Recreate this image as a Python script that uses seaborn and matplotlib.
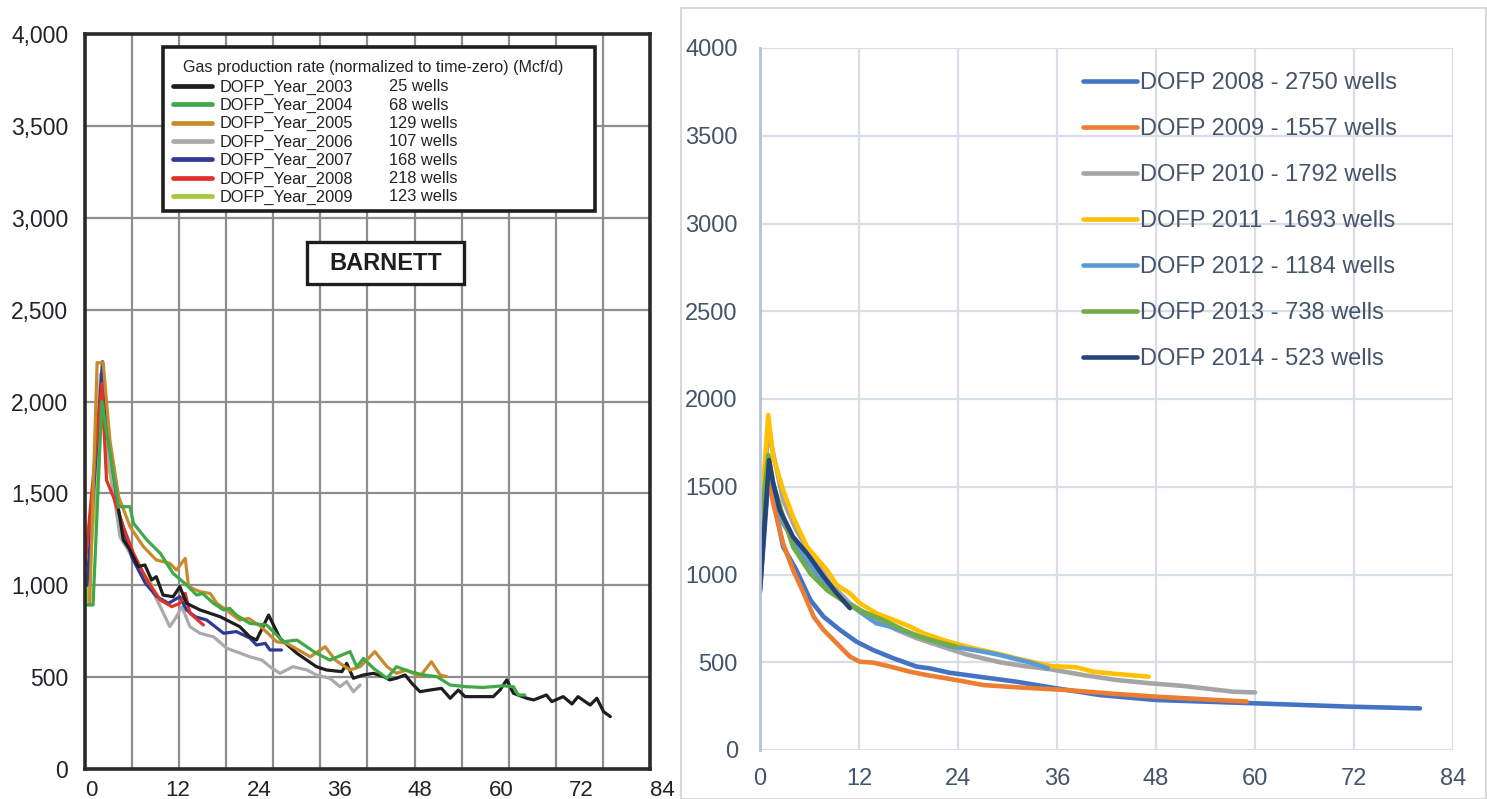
import matplotlib
matplotlib.use("Agg")
import matplotlib.pyplot as plt
import seaborn as sns
from matplotlib.lines import Line2D
from matplotlib.patches import Rectangle
from matplotlib.ticker import FuncFormatter, MultipleLocator

# ---------------- Barnett, 2003-2009 vintages (left panel) ----------------
b2003_m = [5, 5.7, 6.7, 7.9, 8.9, 9.9, 10.6, 11.6, 13.1, 14.1, 15.1, 16.1, 17.1, 20.1, 23, 24.5, 25.5,
           27.3, 29, 31.5, 34.4, 35.9, 38.2, 38.9, 39.9, 41.4, 42.9, 44.4, 45.3, 46.3, 47.6, 48.6, 49.8,
           51.3, 53, 54.3, 55.5, 56.5, 59.2, 60.7, 61.7, 62.7, 63.7, 65.7, 66.7, 68.6, 69.4, 71.1, 72.4,
           73.3, 75.1, 76.1, 77.1, 78.1]
b2003_v = [1410, 1247, 1192, 1102, 1111, 1029, 1047, 947, 938, 993, 902, 884, 866, 829, 775, 720, 702,
           838, 711, 630, 557, 539, 530, 575, 494, 512, 521, 503, 485, 494, 512, 466, 421,
           430, 439, 385, 430, 394, 394, 394, 430, 485, 412, 385, 376, 403, 367, 394, 354,
           394, 348, 385, 312, 285]

b2004_m = [0.3, 1.2, 2.5, 3, 5, 6.7, 7.2, 9.2, 11.2, 13.1, 15.1, 16.6, 17.5, 19.1, 20.6, 21.5, 22.5, 24.5,
           27, 29.5, 31.5, 34.4, 36.4, 39.4, 40.4, 41.4, 42.9, 44.9, 46.3, 48.3, 50.3, 52.3, 54.3, 56.7,
           59.2, 62.2, 63.7, 64.4, 65.4]
b2004_v = [893, 893, 2000, 1882, 1428, 1428, 1338, 1247, 1174, 1065, 1002, 947, 955, 902, 866, 875, 838, 793,
           784, 693, 702, 630, 593, 639, 557, 602, 548, 494, 557, 530, 512, 503, 457, 448,
           444, 453, 448, 403, 403]

b2005_m = [0.7, 1.8, 2.7, 3.7, 5, 6.7, 8.7, 10.6, 12.6, 13.6, 14.9, 15.4, 17.1, 18.6, 19.6, 21, 23, 24.3,
           26, 28.5, 30, 33.5, 35.7, 37.2, 39.4, 40.9, 43.1, 44.9, 46.3, 47.8, 49.8, 51.5, 52.8, 53.8]
b2005_v = [902, 2212, 2212, 1791, 1483, 1319, 1210, 1138, 1120, 1083, 1147, 993, 965, 956, 902, 866, 811, 820,
           780, 693, 684, 611, 666, 593, 539, 557, 639, 557, 521, 539, 503, 584, 512, 503]

b2006_m = [0.5, 2.3, 3.5, 5.2, 6.7, 9.2, 11.2, 12.6, 13.6, 14.4, 15.6, 17.1, 19.1, 21.1, 24.5, 26.3,
           27.5, 29, 30.9, 33, 34.4, 36.4, 37.9, 38.9, 39.9, 40.9]
b2006_v = [1000, 2150, 1700, 1265, 1174, 1029, 884, 775, 829, 884, 775, 739, 720, 657, 611, 593,
           557, 521, 557, 539, 512, 494, 448, 476, 421, 457]

b2007_m = [0.3, 2.6, 3.5, 5, 7, 9, 10.7, 12.4, 14.1, 15.1, 16.4, 18.1, 20.6, 22.5, 24.5, 25.5, 26.8,
           27.5, 29.2]
b2007_v = [1000, 2218, 1800, 1400, 1150, 1010, 938, 902, 938, 866, 829, 811, 739, 748, 713, 675, 684,
           648, 648]

b2008_m = [0, 2.5, 3.2, 4.2, 5.7, 7.2, 9.2, 11.2, 12.9, 14.1, 14.9, 15.6, 17.6]
b2008_v = [1100, 2100, 1573, 1483, 1319, 1174, 1029, 920, 884, 902, 956, 848, 784]

b2009_m = [0.3, 2.5, 3.5, 5, 7, 9, 10]
b2009_v = [900, 1950, 1650, 1350, 1150, 1050, 1000]

barnett_years = ["2003", "2004", "2005", "2006", "2007", "2008", "2009"]
barnett_wells = [25, 68, 129, 107, 168, 218, 123]
barnett_colors = ["#1e1e1e", "#3fa847", "#c98a2e", "#aaaaac", "#2d3b96", "#e03228", "#a8c83c"]
barnett_series = [(b2003_m, b2003_v), (b2004_m, b2004_v), (b2005_m, b2005_v), (b2006_m, b2006_v),
                  (b2007_m, b2007_v), (b2008_m, b2008_v), (b2009_m, b2009_v)]
# drawing order (back to front)
barnett_order = [6, 3, 4, 5, 0, 2, 1]

# ---------------- 2008-2014 vintages (right panel) ----------------
d2008_m = [0, 1, 1.8, 2.8, 4.4, 6.1, 7.7, 9.7, 11.7, 13.7, 16.2, 19, 20.6, 23, 27.1, 31.1, 36, 41.2,
           48, 60, 71.5, 80]
d2008_v = [900, 1540, 1386, 1158, 1026, 855, 760, 684, 617, 570, 522, 475, 465, 440, 414, 389, 351, 313,
           285, 266, 247, 237]

d2009_m = [0, 1, 1.6, 2.8, 4.0, 5.3, 6.5, 7.7, 9.3, 10.9, 12.1, 13.7, 15.8, 18.2, 20.2, 23, 24.2, 27.1,
           31.9, 37.1, 43.2, 48, 55.3, 59]
d2009_v = [1100, 1576, 1405, 1177, 1026, 893, 760, 684, 608, 532, 503, 498, 475, 446, 427, 405, 395, 370,
           355, 342, 319, 304, 285, 276]

d2010_m = [0, 1, 2.8, 4.4, 6.1, 8.5, 10.9, 13.3, 16.6, 19, 23, 25, 26.3, 29.1, 31.9, 35.2, 39.2, 43.2,
           47.3, 51.3, 57.4, 60]
d2010_v = [1200, 1823, 1424, 1253, 1120, 949, 836, 760, 684, 637, 575, 545, 530, 500, 479, 460, 427, 399,
           380, 365, 332, 328]

d2011_m = [0, 1, 1.6, 2.8, 4, 5.7, 6.9, 8.1, 9.3, 10.9, 12.1, 14.1, 16.2, 18.2, 19.8, 22.2, 23.8, 26.3,
           28.7, 31.1, 35.2, 38.4, 40.4, 43.2, 47.1]
d2011_v = [1250, 1909, 1671, 1481, 1329, 1158, 1092, 1026, 940, 893, 836, 779, 741, 703, 665, 627, 605, 575,
           551, 522, 479, 471, 446, 433, 418]

d2012_m = [0, 1, 2.8, 5.3, 7.7, 10.1, 12.1, 14.1, 15.8, 18.2, 20.6, 23, 25.5, 27.1, 29.1, 33.1, 34.9]
d2012_v = [1000, 1620, 1291, 1101, 949, 855, 788, 722, 703, 665, 627, 592, 573, 560, 541, 494, 465]

d2013_m = [0, 1, 1.6, 2.8, 4, 6.1, 8.1, 10.5, 12.5, 14.9, 17.4, 19.8, 22.2, 23.8]
d2013_v = [1250, 1681, 1519, 1329, 1158, 1006, 912, 836, 788, 741, 684, 637, 608, 589]

d2014_m = [0, 1.1, 1.6, 2.4, 4, 5.7, 7.7, 9.3, 10.9]
d2014_v = [912, 1652, 1519, 1367, 1215, 1120, 988, 893, 808]

dofp_years = ["2008", "2009", "2010", "2011", "2012", "2013", "2014"]
dofp_wells = [2750, 1557, 1792, 1693, 1184, 738, 523]
dofp_colors = ["#4472c4", "#ed7d31", "#a5a5a5", "#ffc000", "#5b9bd5", "#70ad47", "#264478"]
dofp_series = [(d2008_m, d2008_v), (d2009_m, d2009_v), (d2010_m, d2010_v), (d2011_m, d2011_v),
               (d2012_m, d2012_v), (d2013_m, d2013_v), (d2014_m, d2014_v)]

# ---------------- figure ----------------
sns.set_style("white")
plt.rcParams["font.family"] = ["Liberation Sans", "DejaVu Sans"]

W, H = 1487, 799
fig = plt.figure(figsize=(W / 100, H / 100), dpi=100)

# ---- left panel ----
ax1 = fig.add_axes([85 / W, (H - 769) / H, 565 / W, 734.7 / H])
for i in barnett_order:
    m, v = barnett_series[i]
    sns.lineplot(x=m, y=v, ax=ax1, color=barnett_colors[i], lw=2.3, sort=False,
                 estimator=None, legend=False)

ax1.set_xlim(0, 84)
ax1.set_ylim(0, 4000)
ax1.xaxis.set_major_locator(MultipleLocator(12))
ax1.xaxis.set_minor_locator(MultipleLocator(7))
ax1.yaxis.set_major_locator(MultipleLocator(500))
ax1.yaxis.set_major_formatter(FuncFormatter(lambda v, p: f"{v:,.0f}"))
ax1.tick_params(axis="x", which="major", length=0, pad=8, labelsize=16, labelcolor="#222228")
ax1.tick_params(axis="x", which="minor", length=8, width=2, color="#333333", direction="out")
ax1.tick_params(axis="y", which="major", length=8, width=2, color="#333333", pad=4,
                labelsize=16.5, labelcolor="#222228", direction="out")
for lab in ax1.get_xticklabels():
    lab.set_horizontalalignment("left")
ax1.grid(False)
ax1.grid(True, which="minor", axis="x", color="#8e8e8e", lw=1.6)
ax1.grid(True, which="major", axis="y", color="#8e8e8e", lw=1.6)
ax1.set_axisbelow(True)
for s in ax1.spines.values():
    s.set_visible(True)
    s.set_color("#2a2a2a")
    s.set_linewidth(2.6)
ax1.set_xlabel("")
ax1.set_ylabel("")

# legend frame, title and entries
ax1.add_patch(Rectangle((0.1386, 0.7599), 0.9027 - 0.1386, 0.9823 - 0.7599, transform=ax1.transAxes,
                        fill=True, fc="white", ec="#1e1e1e", lw=2.6, zorder=5))
ax1.text(0.1726, 0.9554, "Gas production rate (normalized to time-zero) (Mcf/d)", transform=ax1.transAxes,
         fontsize=11.6, color="#222228", ha="left", va="center", zorder=6)
handles = [Line2D([], [], color=c, lw=3.4) for c in barnett_colors]
handles += [Line2D([], [], color="none", lw=0) for _ in barnett_colors]
labels = [f"DOFP_Year_{y}" for y in barnett_years] + [f"{w} wells" for w in barnett_wells]
leg1 = ax1.legend(handles, labels, ncol=2, loc="upper left", bbox_to_anchor=(0.1552, 0.9385),
                  frameon=False, fontsize=11.8, handlelength=2.38, handletextpad=0.51,
                  columnspacing=-0.75, labelspacing=0.2, borderpad=0, borderaxespad=0)
leg1.set_zorder(7)
for t in leg1.get_texts():
    t.set_color("#222228")

# region tag
ax1.add_patch(Rectangle((0.3935, 0.6597), 0.6713 - 0.3935, 0.7169 - 0.6597, transform=ax1.transAxes,
                        fill=True, fc="white", ec="#1e1e1e", lw=2.4, zorder=5))
ax1.text(0.5324, 0.6883, "BARNETT", transform=ax1.transAxes, fontsize=17, fontweight="bold",
         color="#1e1e1e", ha="center", va="center", zorder=6)

# ---- right panel ----
ax2 = fig.add_axes([760 / W, (H - 750) / H, 693 / W, 702 / H])
for i, (m, v) in enumerate(dofp_series):
    sns.lineplot(x=m, y=v, ax=ax2, color=dofp_colors[i], lw=3.3, sort=False, estimator=None,
                 label=f"DOFP {dofp_years[i]} - {dofp_wells[i]} wells")
    ax2.lines[-1].set_solid_capstyle("round")
    ax2.lines[-1].set_solid_joinstyle("round")

ax2.set_xlim(0, 84)
ax2.set_ylim(0, 4000)
ax2.xaxis.set_major_locator(MultipleLocator(12))
ax2.yaxis.set_major_locator(MultipleLocator(500))
ax2.tick_params(axis="x", length=0, pad=13, labelsize=17, labelcolor="#44546a")
ax2.tick_params(axis="y", length=0, pad=16, labelsize=17, labelcolor="#44546a")
ax2.grid(True, color="#d9dde6", lw=1.6)
ax2.set_axisbelow(True)
for k in ["top", "right", "bottom"]:
    ax2.spines[k].set_visible(False)
ax2.spines["left"].set_color("#b8c2d6")
ax2.spines["left"].set_linewidth(2)
ax2.set_xlabel("")
ax2.set_ylabel("")

leg2 = ax2.legend(loc="upper left", bbox_to_anchor=(0.4661, 0.966), frameon=False, fontsize=17,
                  handlelength=2.29, handletextpad=0.13, labelspacing=1.02, borderpad=0,
                  borderaxespad=0)
for t in leg2.get_texts():
    t.set_color("#44546a")
for h in leg2.get_lines():
    h.set_linewidth(3.3)

# light frame around the right chart
fig.add_artist(Rectangle((681 / W, 0), (W - 682) / W, (H - 8) / H, transform=fig.transFigure,
                         fill=False, ec="#d9d9d9", lw=1.5))

fig.savefig("out.png", dpi=100)
